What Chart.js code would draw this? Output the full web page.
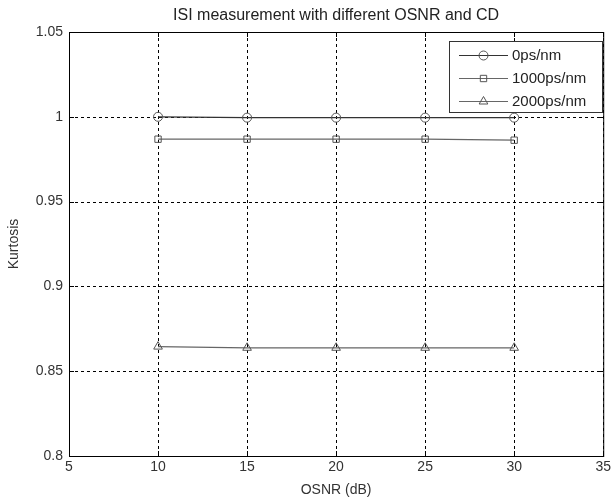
<!DOCTYPE html>
<html>
<head>
<meta charset="utf-8">
<script src="https://cdn.jsdelivr.net/npm/chart.js@4.4.0/dist/chart.umd.min.js"></script>
<style>
  html, body { margin: 0; padding: 0; background: #fff; }
  #wrap { width: 614px; height: 501px; position: relative; }
</style>
</head>
<body>
<div id="wrap"><canvas id="isiChart" width="614" height="501"></canvas></div>
<script>
// OSNR values (dB) on the x axis
const osnr = [10, 15, 20, 25, 30];

// Kurtosis per chromatic dispersion value
const kurt0 = [1.0, 0.9995, 0.9995, 0.9995, 0.9995];
const kurt1000 = [0.9868, 0.9868, 0.9868, 0.9868, 0.9862];
const kurt2000 = [0.8645, 0.8638, 0.8638, 0.8638, 0.8638];

const seriesNames = ['0ps/nm', '1000ps/nm', '2000ps/nm'];
const xTicks = [5, 10, 15, 20, 25, 30, 35];
const yTicks = [0.8, 0.85, 0.9, 0.95, 1, 1.05];
const chartTitle = 'ISI measurement with different OSNR and CD';

const FONT = 'Liberation Sans, Arial, sans-serif';

function toPoints(ys) {
    return osnr.map((x, i) => ({ x: x, y: ys[i] }));
}

const markers = ['circle', 'rect', 'triangle'];
const lineColors = ['#333333', '#666666', '#666666'];
const datasets = [kurt0, kurt1000, kurt2000].map((ys, i) => ({
    label: seriesNames[i],
    data: toPoints(ys),
    borderColor: lineColors[i],
    borderWidth: 1.2,
    pointStyle: markers[i],
    pointRadius: i === 2 ? 5 : 4.5,
    pointBorderColor: '#555',
    pointBackgroundColor: 'rgba(0,0,0,0)',
    pointBorderWidth: 1,
    fill: false,
    tension: 0
}));

// dotted grid, drawn under the lines
const dottedGrid = {
    id: 'dottedGrid',
    beforeDatasetsDraw(chart) {
        const c = chart.ctx, a = chart.chartArea;
        const xs = chart.scales.x, ys = chart.scales.y;
        c.save();
        c.strokeStyle = '#000';
        c.lineWidth = 1;
        c.setLineDash([3, 3]);
        c.beginPath();
        xTicks.forEach(v => {
            const px = Math.round(xs.getPixelForValue(v)) + 0.5;
            c.moveTo(px, a.top); c.lineTo(px, a.bottom);
        });
        yTicks.forEach(v => {
            const py = Math.round(ys.getPixelForValue(v)) + 0.5;
            c.moveTo(a.left, py); c.lineTo(a.right, py);
        });
        c.stroke();
        c.restore();
    }
};

// box around the plot, inner tick marks, title over the axes and legend, matlab style
const matlabBox = {
    id: 'matlabBox',
    afterDraw(chart) {
        const c = chart.ctx, a = chart.chartArea;
        const xs = chart.scales.x, ys = chart.scales.y;
        c.save();
        c.strokeStyle = '#000';
        c.lineWidth = 1;
        c.setLineDash([]);
        c.strokeRect(a.left + 0.5, a.top + 0.5, a.right - a.left, a.bottom - a.top);
        c.beginPath();
        xTicks.forEach(v => {
            const px = Math.round(xs.getPixelForValue(v)) + 0.5;
            c.moveTo(px, a.bottom); c.lineTo(px, a.bottom - 5);
            c.moveTo(px, a.top); c.lineTo(px, a.top + 5);
        });
        yTicks.forEach(v => {
            const py = Math.round(ys.getPixelForValue(v)) + 0.5;
            c.moveTo(a.left, py); c.lineTo(a.left + 5, py);
            c.moveTo(a.right, py); c.lineTo(a.right - 5, py);
        });
        c.stroke();

        // title centred on the axes
        c.fillStyle = '#222';
        c.font = '16px ' + FONT;
        c.textAlign = 'center';
        c.textBaseline = 'middle';
        c.fillText(chartTitle, (a.left + a.right) / 2, 16);

        // legend
        const lx = 449, ly = 41, lw = 153, lh = 71;
        c.fillStyle = '#fff';
        c.fillRect(lx, ly, lw, lh);
        c.strokeStyle = '#333';
        c.strokeRect(lx + 0.5, ly + 0.5, lw, lh);
        c.font = '15px ' + FONT;
        c.textAlign = 'left';
        chart.data.datasets.forEach((ds, i) => {
            const yy = ly + 14 + i * 23;
            c.strokeStyle = ds.borderColor;
            c.lineWidth = 1.2;
            c.beginPath();
            c.moveTo(459, yy + 0.5); c.lineTo(508, yy + 0.5);
            c.stroke();
            c.strokeStyle = '#555';
            c.fillStyle = 'rgba(0,0,0,0)';
            c.lineWidth = 1;
            Chart.helpers.drawPoint(c, {
                pointStyle: ds.pointStyle, radius: ds.pointRadius, borderWidth: 1, rotation: 0
            }, 483.5, yy + 0.5);
            c.fillStyle = '#222';
            c.fillText(ds.label, 512, yy + 1);
        });
        c.restore();
    }
};

new Chart(document.getElementById('isiChart').getContext('2d'), {
    type: 'line',
    data: { datasets: datasets },
    plugins: [dottedGrid, matlabBox],
    options: {
        responsive: false,
        animation: false,
        layout: { padding: { left: 0, right: 8, top: 32, bottom: 0 } },
        scales: {
            x: {
                type: 'linear',
                min: 5, max: 35,
                afterBuildTicks: s => { s.ticks = xTicks.map(v => ({ value: v })); },
                afterFit: s => { s.height = 45; },
                grid: { display: false, drawTicks: false },
                border: { display: false },
                ticks: { color: '#333', font: { family: FONT, size: 14 }, padding: 3, maxRotation: 0 },
                title: { display: true, text: 'OSNR (dB)', color: '#333', font: { family: FONT, size: 14 }, padding: { top: 0, bottom: 2 } }
            },
            y: {
                type: 'linear',
                min: 0.8, max: 1.05,
                afterBuildTicks: s => { s.ticks = yTicks.map(v => ({ value: v })); },
                afterFit: s => { s.width = 69; },
                grid: { display: false, drawTicks: false },
                border: { display: false },
                ticks: {
                    color: '#333', font: { family: FONT, size: 14 }, padding: 6,
                    callback: v => String(Math.round(v * 100) / 100)
                },
                title: { display: true, text: 'Kurtosis', color: '#333', font: { family: FONT, size: 14 }, padding: { top: 6, bottom: 4 } }
            }
        },
        plugins: {
            legend: { display: false },
            tooltip: { enabled: false },
            title: { display: false }
        }
    }
});
</script>
</body>
</html>
